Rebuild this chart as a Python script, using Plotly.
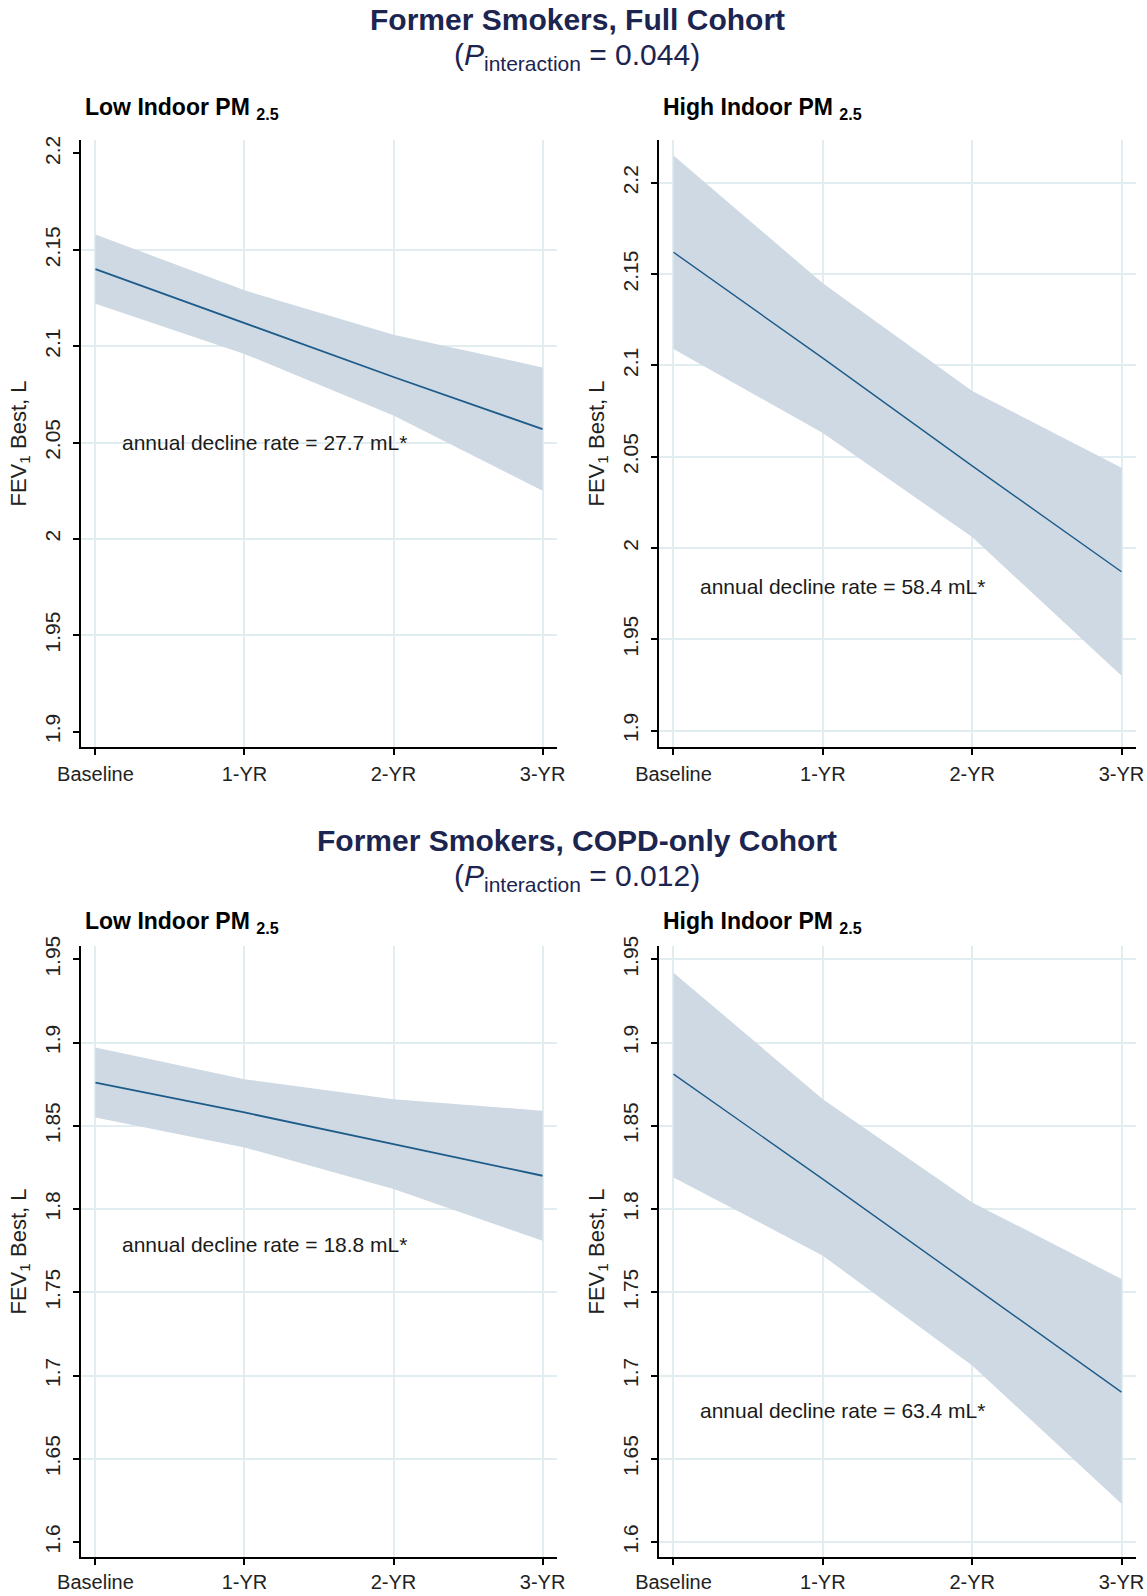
import plotly.graph_objects as go

# ---------------- data ----------------
categories = ["Baseline", "1-YR", "2-YR", "3-YR"]

full_low_fit = [2.140, 2.112, 2.084, 2.057]
full_low_upper = [2.158, 2.129, 2.106, 2.089]
full_low_lower = [2.122, 2.096, 2.064, 2.025]

full_high_fit = [2.162, 2.104, 2.045, 1.987]
full_high_upper = [2.215, 2.145, 2.086, 2.044]
full_high_lower = [2.109, 2.063, 2.006, 1.930]

copd_low_fit = [1.876, 1.858, 1.839, 1.820]
copd_low_upper = [1.897, 1.878, 1.866, 1.859]
copd_low_lower = [1.855, 1.837, 1.812, 1.781]

copd_high_fit = [1.881, 1.818, 1.754, 1.690]
copd_high_upper = [1.942, 1.866, 1.804, 1.758]
copd_high_lower = [1.819, 1.772, 1.706, 1.623]

decline_rates = [27.7, 58.4, 18.8, 63.4]

full_ticks = [1.9, 1.95, 2.0, 2.05, 2.1, 2.15, 2.2]
full_ticklabels = ["1.9", "1.95", "2", "2.05", "2.1", "2.15", "2.2"]
copd_ticks = [1.6, 1.65, 1.7, 1.75, 1.8, 1.85, 1.9, 1.95]
copd_ticklabels = ["1.6", "1.65", "1.7", "1.75", "1.8", "1.85", "1.9", "1.95"]

cohort_titles = ["Former Smokers, Full Cohort", "Former Smokers, COPD-only Cohort"]
p_values = ["0.044", "0.012"]
panel_titles = ["Low Indoor PM", "High Indoor PM"]

# ---------------- style ----------------
W, H = 1147, 1596
FONT = "Liberation Sans, Arial, sans-serif"
BAND = "rgb(206,217,227)"
LINE = "#1d5b8a"
GRID = "#e1edf1"
NAVY = "#1c2450"

def py(p):  # pixel from top -> paper y
    return 1 - p / H

def px(p):
    return p / W

x_domains = [[px(81), px(557)], [px(659), px(1136)]]
y_domains = [[py(747), py(140)], [py(1557), py(946)]]

panels = [
    dict(fit=full_low_fit, up=full_low_upper, lo=full_low_lower, row=0, col=0,
         yrange=[1.892, 2.207], ticks=full_ticks, labels=full_ticklabels, lw=1.8, ann_y=2.05),
    dict(fit=full_high_fit, up=full_high_upper, lo=full_high_lower, row=0, col=1,
         yrange=[1.891, 2.2235], ticks=full_ticks, labels=full_ticklabels, lw=1.4, ann_y=1.979),
    dict(fit=copd_low_fit, up=copd_low_upper, lo=copd_low_lower, row=1, col=0,
         yrange=[1.591, 1.958], ticks=copd_ticks, labels=copd_ticklabels, lw=1.8, ann_y=1.779),
    dict(fit=copd_high_fit, up=copd_high_upper, lo=copd_high_lower, row=1, col=1,
         yrange=[1.591, 1.958], ticks=copd_ticks, labels=copd_ticklabels, lw=1.4, ann_y=1.679),
]

fig = go.Figure()
annotations = []
layout = {}

for i, p in enumerate(panels):
    n = i + 1
    xa = "x" if n == 1 else f"x{n}"
    ya = "y" if n == 1 else f"y{n}"
    # CI band
    fig.add_trace(go.Scatter(x=categories, y=p["lo"], mode="lines", line=dict(width=0, color=BAND),
                             xaxis=xa, yaxis=ya, showlegend=False, hoverinfo="skip"))
    fig.add_trace(go.Scatter(x=categories, y=p["up"], mode="lines", line=dict(width=0, color=BAND),
                             fill="tonexty", fillcolor=BAND,
                             xaxis=xa, yaxis=ya, showlegend=False, hoverinfo="skip"))
    # fitted line
    fig.add_trace(go.Scatter(x=categories, y=p["fit"], mode="lines", line=dict(width=p["lw"], color=LINE),
                             xaxis=xa, yaxis=ya, showlegend=False))

    left = p["col"] == 0
    inner = p["ticks"][1:-1] if left else p["ticks"]
    layout["xaxis" if n == 1 else f"xaxis{n}"] = dict(
        domain=x_domains[p["col"]], anchor=ya, type="category", automargin=False,
        range=[-0.097, 3.097],
        showline=True, linecolor="black", linewidth=1.5,
        ticks="outside", ticklen=6, tickwidth=1.5, tickcolor="black",
        showgrid=True, gridcolor=GRID, gridwidth=1.5,
        tickfont=dict(family=FONT, size=20, color="#222222"),
        ticklabelstandoff=2 if p["row"] == 0 else 0, zeroline=False,
    )
    layout["yaxis" if n == 1 else f"yaxis{n}"] = dict(
        domain=y_domains[p["row"]], anchor=xa, automargin=False,
        range=p["yrange"],
        tickmode="array", tickvals=p["ticks"], ticktext=p["labels"], tickangle=-90,
        showline=True, linecolor="black", linewidth=1.5,
        ticks="outside", ticklen=6, tickwidth=1.5, tickcolor="black",
        showgrid=False,
        minor=dict(tickmode="array", tickvals=inner, showgrid=True, gridcolor=GRID, gridwidth=1.5, ticks=""),
        tickfont=dict(family=FONT, size=21, color="#222222"),
        ticklabelstandoff=5, zeroline=False,
    )
    # annual decline annotation
    annotations.append(dict(
        xref=f"{xa} domain", yref=ya, x=0.082, y=p["ann_y"], xanchor="left", yanchor="middle",
        text=f"annual decline rate = {decline_rates[i]} mL*", showarrow=False,
        font=dict(family=FONT, size=21, color="#1a1a1a"),
    ))
    # y axis title
    annotations.append(dict(
        xref="paper", yref="paper",
        x=px(19) if left else px(597),
        y=(y_domains[p["row"]][0] + y_domains[p["row"]][1]) / 2,
        xanchor="center", yanchor="middle", textangle=-90,
        text="FEV<sub>1</sub> Best, L", showarrow=False,
        font=dict(family=FONT, size=22, color="#222222"),
    ))
    # panel title
    annotations.append(dict(
        xref="paper", yref="paper",
        x=px(83) if left else px(661),
        y=py(108) if p["row"] == 0 else py(922),
        xanchor="left", yanchor="middle",
        text=f"<b>{panel_titles[p['col']]} <sub>2.5</sub></b>", showarrow=False,
        font=dict(family=FONT, size=23, color="black"),
    ))

# cohort titles
for r in range(2):
    ty = [20, 840][r]
    annotations.append(dict(
        xref="paper", yref="paper", x=px(577), y=py(ty), xanchor="center", yanchor="middle",
        text=f"<b>{cohort_titles[r]}</b>", showarrow=False,
        font=dict(family=FONT, size=30, color=NAVY),
    ))
    annotations.append(dict(
        xref="paper", yref="paper", x=px(577), y=py(ty + 37), xanchor="center", yanchor="middle",
        text=f"(<i>P</i><sub>interaction</sub> = {p_values[r]})", showarrow=False,
        font=dict(family=FONT, size=30, color=NAVY),
    ))

fig.update_layout(
    width=W, height=H,
    margin=dict(l=0, r=0, t=0, b=0),
    paper_bgcolor="white", plot_bgcolor="white",
    showlegend=False,
    annotations=annotations,
    **layout,
)

fig.write_html(
    "out.html",
    config={"displayModeBar": False},
    post_script="document.body.style.margin='0';document.body.style.padding='0';"
                "document.documentElement.style.overflow='hidden';",
)
